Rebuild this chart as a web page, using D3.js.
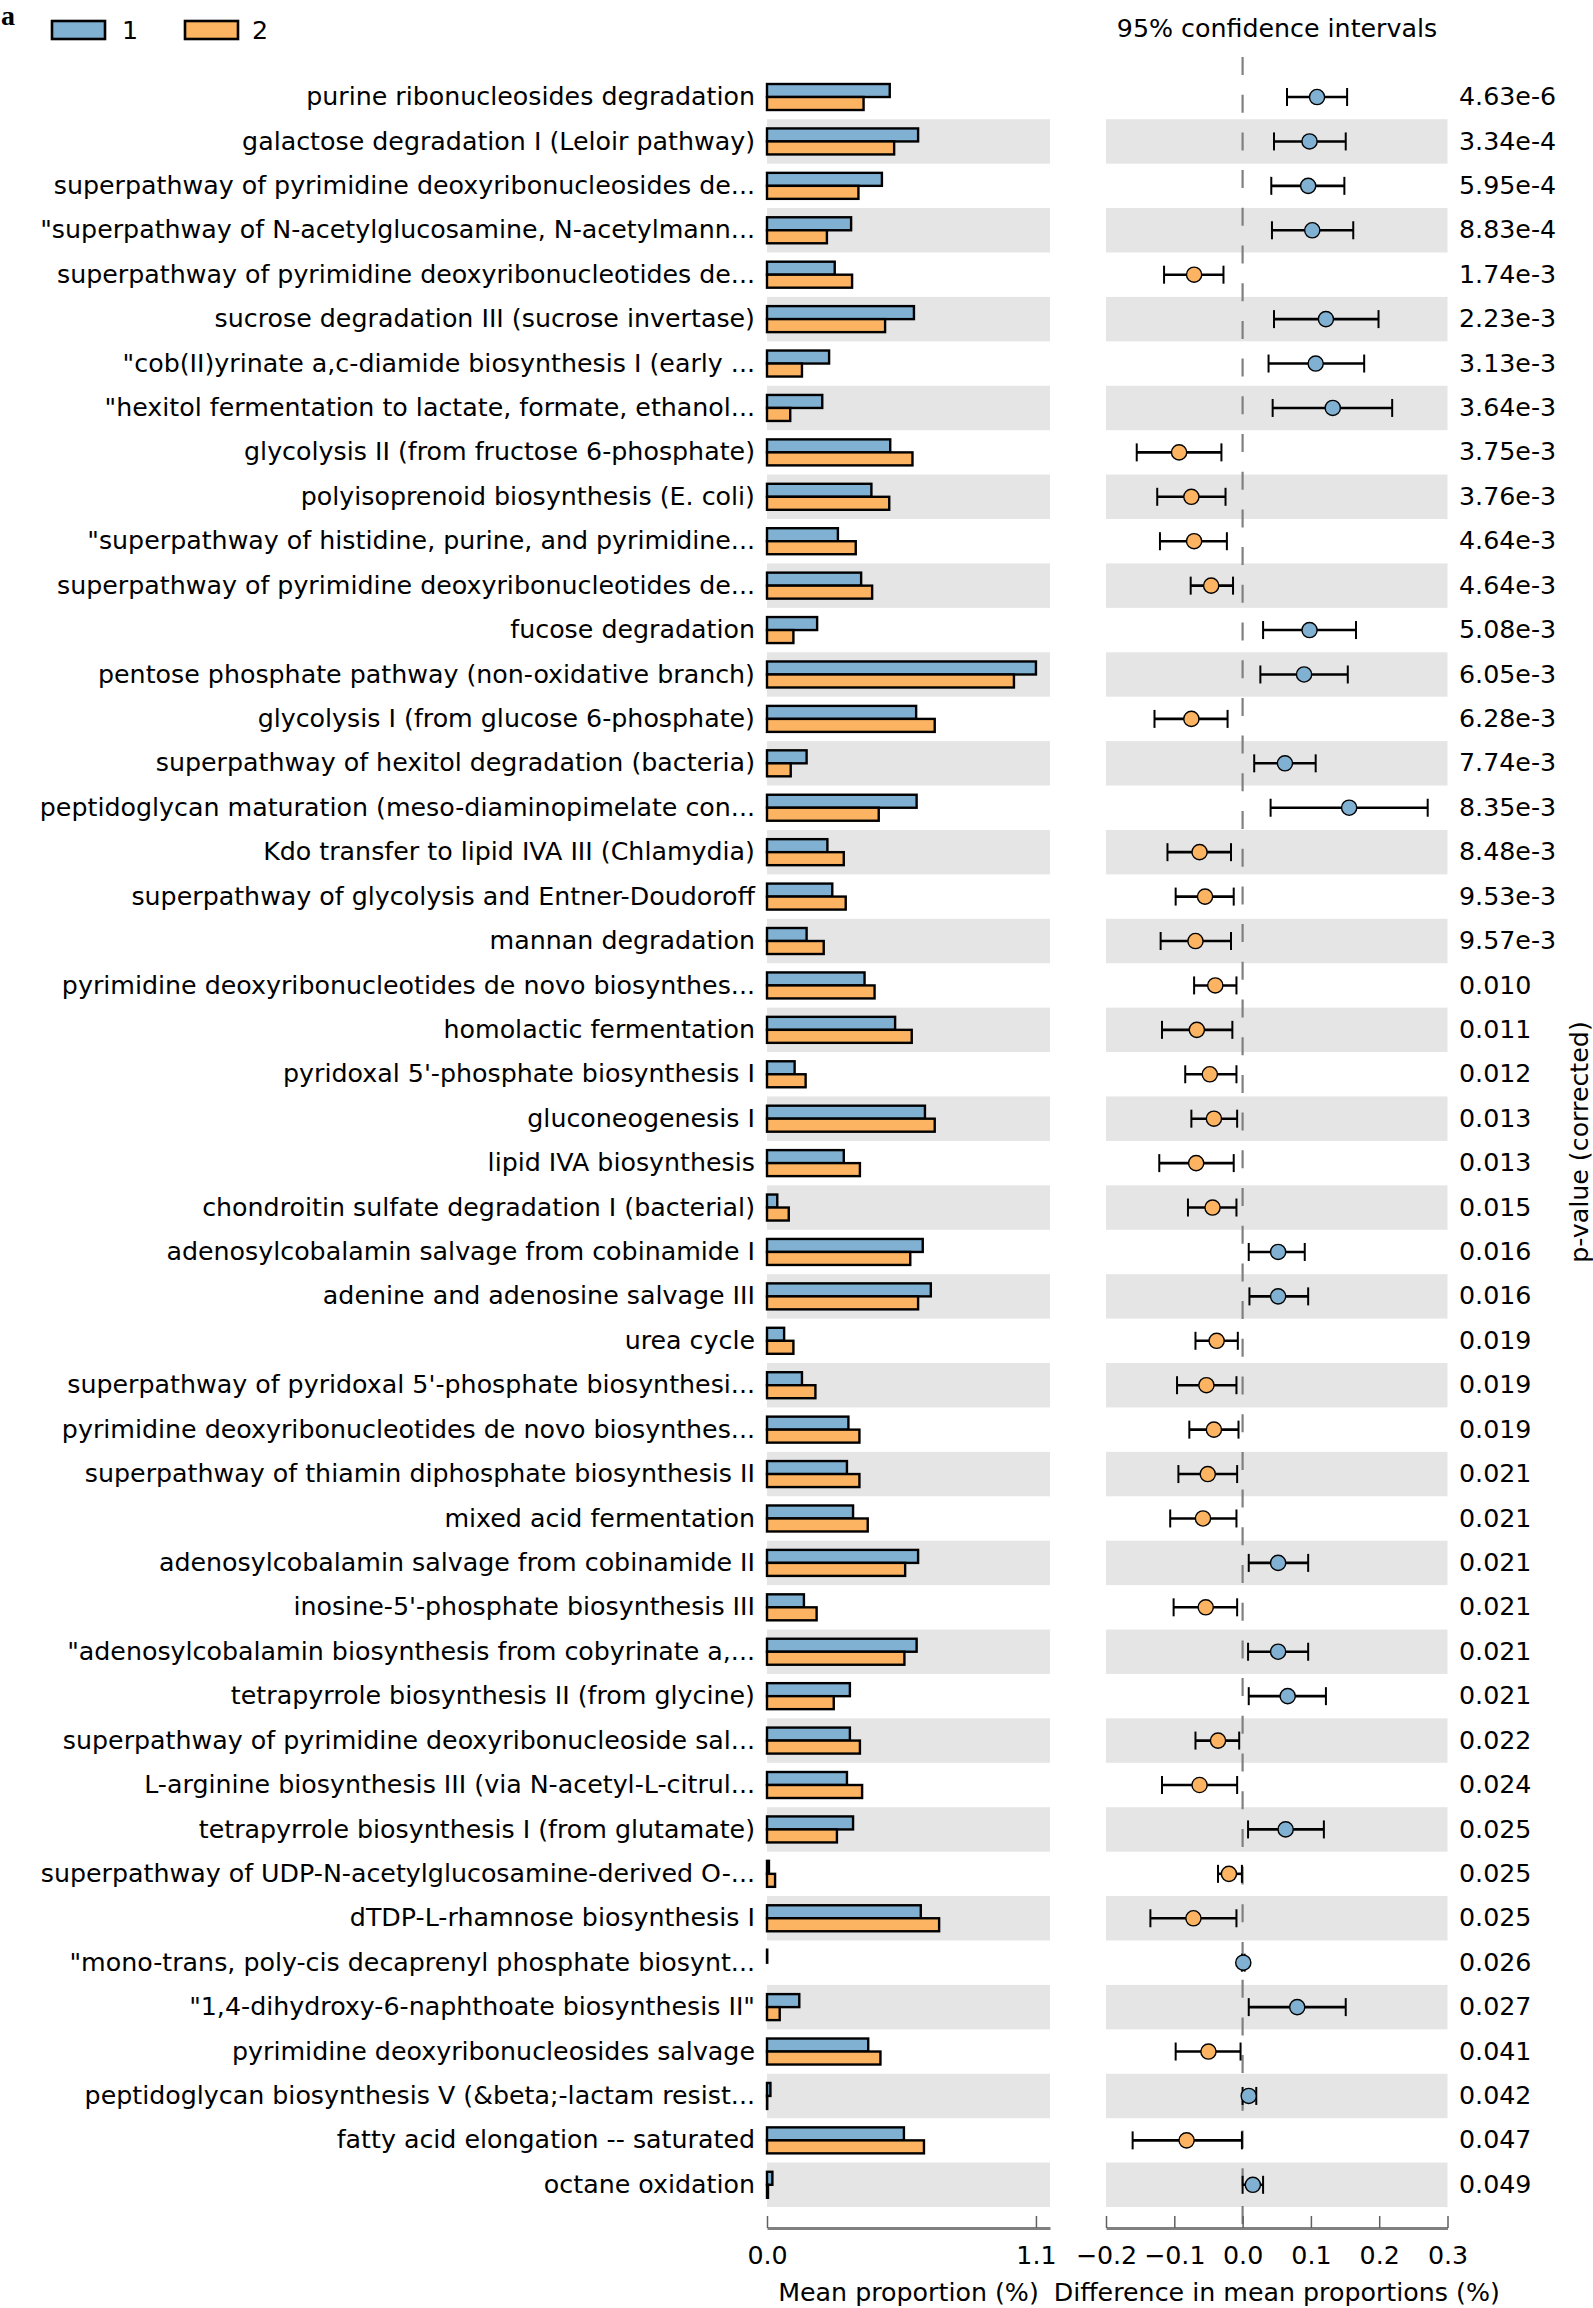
<!DOCTYPE html>
<html><head><meta charset="utf-8">
<script src="https://cdn.jsdelivr.net/npm/d3@7"></script>
<style>
html,body{margin:0;padding:0;background:#fff;}
svg text{font-family:"DejaVu Sans",sans-serif;fill:#000;}
</style></head>
<body><svg id="chart" width="1593" height="2308"></svg>
<script>
const categories = [
"purine ribonucleosides degradation",
"galactose degradation I (Leloir pathway)",
"superpathway of pyrimidine deoxyribonucleosides de...",
"\"superpathway of N-acetylglucosamine, N-acetylmann...",
"superpathway of pyrimidine deoxyribonucleotides de...",
"sucrose degradation III (sucrose invertase)",
"\"cob(II)yrinate a,c-diamide biosynthesis I (early ...",
"\"hexitol fermentation to lactate, formate, ethanol...",
"glycolysis II (from fructose 6-phosphate)",
"polyisoprenoid biosynthesis (E. coli)",
"\"superpathway of histidine, purine, and pyrimidine...",
"superpathway of pyrimidine deoxyribonucleotides de...",
"fucose degradation",
"pentose phosphate pathway (non-oxidative branch)",
"glycolysis I (from glucose 6-phosphate)",
"superpathway of hexitol degradation (bacteria)",
"peptidoglycan maturation (meso-diaminopimelate con...",
"Kdo transfer to lipid IVA III (Chlamydia)",
"superpathway of glycolysis and Entner-Doudoroff",
"mannan degradation",
"pyrimidine deoxyribonucleotides de novo biosynthes...",
"homolactic fermentation",
"pyridoxal 5'-phosphate biosynthesis I",
"gluconeogenesis I",
"lipid IVA biosynthesis",
"chondroitin sulfate degradation I (bacterial)",
"adenosylcobalamin salvage from cobinamide I",
"adenine and adenosine salvage III",
"urea cycle",
"superpathway of pyridoxal 5'-phosphate biosynthesi...",
"pyrimidine deoxyribonucleotides de novo biosynthes...",
"superpathway of thiamin diphosphate biosynthesis II",
"mixed acid fermentation",
"adenosylcobalamin salvage from cobinamide II",
"inosine-5'-phosphate biosynthesis III",
"\"adenosylcobalamin biosynthesis from cobyrinate a,...",
"tetrapyrrole biosynthesis II (from glycine)",
"superpathway of pyrimidine deoxyribonucleoside sal...",
"L-arginine biosynthesis III (via N-acetyl-L-citrul...",
"tetrapyrrole biosynthesis I (from glutamate)",
"superpathway of UDP-N-acetylglucosamine-derived O-...",
"dTDP-L-rhamnose biosynthesis I",
"\"mono-trans, poly-cis decaprenyl phosphate biosynt...",
"\"1,4-dihydroxy-6-naphthoate biosynthesis II\"",
"pyrimidine deoxyribonucleosides salvage",
"peptidoglycan biosynthesis V (&beta;-lactam resist...",
"fatty acid elongation -- saturated",
"octane oxidation"
];
const pValues = ["4.63e-6","3.34e-4","5.95e-4","8.83e-4","1.74e-3","2.23e-3","3.13e-3","3.64e-3","3.75e-3","3.76e-3","4.64e-3","4.64e-3","5.08e-3","6.05e-3","6.28e-3","7.74e-3","8.35e-3","8.48e-3","9.53e-3","9.57e-3","0.010","0.011","0.012","0.013","0.013","0.015","0.016","0.016","0.019","0.019","0.019","0.021","0.021","0.021","0.021","0.021","0.021","0.022","0.024","0.025","0.025","0.025","0.026","0.027","0.041","0.042","0.047","0.049"];
const meanGroup1 = [0.502,0.618,0.470,0.344,0.277,0.601,0.254,0.226,0.504,0.427,0.290,0.385,0.205,1.100,0.610,0.162,0.612,0.247,0.267,0.162,0.399,0.524,0.113,0.646,0.314,0.042,0.637,0.670,0.070,0.143,0.333,0.327,0.352,0.618,0.151,0.612,0.339,0.339,0.327,0.352,0.008,0.629,0.001,0.132,0.414,0.014,0.560,0.022];
const meanGroup2 = [0.395,0.520,0.374,0.245,0.348,0.483,0.143,0.095,0.595,0.500,0.363,0.430,0.108,1.010,0.686,0.097,0.457,0.314,0.322,0.232,0.440,0.592,0.158,0.686,0.380,0.089,0.586,0.618,0.108,0.198,0.378,0.378,0.412,0.565,0.203,0.562,0.273,0.380,0.389,0.286,0.033,0.704,0.000,0.052,0.464,0.001,0.642,0.004];
const diffMean = [0.109,0.098,0.096,0.102,-0.071,0.122,0.107,0.132,-0.093,-0.075,-0.071,-0.046,0.098,0.090,-0.075,0.062,0.156,-0.063,-0.055,-0.069,-0.040,-0.067,-0.048,-0.042,-0.068,-0.044,0.052,0.052,-0.038,-0.053,-0.042,-0.051,-0.058,0.052,-0.054,0.052,0.066,-0.036,-0.063,0.063,-0.020,-0.072,0.001,0.080,-0.050,0.009,-0.082,0.015];
const ciLow = [0.065,0.046,0.042,0.043,-0.115,0.046,0.038,0.044,-0.155,-0.125,-0.121,-0.076,0.030,0.026,-0.129,0.017,0.041,-0.110,-0.098,-0.120,-0.071,-0.118,-0.084,-0.075,-0.122,-0.080,0.009,0.010,-0.069,-0.096,-0.078,-0.094,-0.106,0.009,-0.101,0.008,0.009,-0.069,-0.118,0.008,-0.036,-0.135,-0.001,0.009,-0.098,0.000,-0.161,0.000];
const ciHigh = [0.153,0.151,0.149,0.162,-0.028,0.199,0.178,0.219,-0.031,-0.025,-0.023,-0.014,0.166,0.154,-0.022,0.107,0.271,-0.017,-0.013,-0.017,-0.009,-0.015,-0.009,-0.008,-0.013,-0.009,0.091,0.096,-0.007,-0.009,-0.006,-0.008,-0.009,0.096,-0.008,0.096,0.122,-0.005,-0.008,0.119,-0.001,-0.009,0.003,0.151,-0.003,0.020,-0.001,0.030];
const groups = ["1","2"];
const leftTicks = [0.0, 1.1];
const rightTicks = [-0.2,-0.1,0.0,0.1,0.2,0.3];

const C1 = "#80b1d3", C2 = "#fdb462", BAND = "#e5e5e5";
const FS = 25.3;
const svg = d3.select("#chart");
const n = categories.length;
const idx = d3.range(n);

const y = d3.scaleBand().domain(idx).range([74.8, 2207]).paddingInner(0).paddingOuter(0);
const xL = d3.scaleLinear().domain([0, 1.1575]).range([767, 1050]);
const xR = d3.scaleLinear().domain([-0.2, 0.3]).range([1106, 1447.5]);
const axisY = 2228;
const barH = 13;
const cy = i => y(i) + y.bandwidth()/2;

// background bands
const bands = idx.filter(i => i % 2 === 1);
svg.append("g").selectAll("rect").data(bands).join("rect")
  .attr("x", xL.range()[0]).attr("width", xL.range()[1]-xL.range()[0])
  .attr("y", i => y(i)).attr("height", y.bandwidth()).attr("fill", BAND);
svg.append("g").selectAll("rect").data(bands).join("rect")
  .attr("x", xR.range()[0]).attr("width", xR.range()[1]-xR.range()[0])
  .attr("y", i => y(i)).attr("height", y.bandwidth()).attr("fill", BAND);

// category labels
svg.append("g").selectAll("text").data(idx).join("text")
  .attr("x", 755).attr("y", i => cy(i)).attr("dy", "0.32em")
  .attr("text-anchor", "end").style("font-size", FS+"px")
  .text(i => categories[i]);

// bars
const gb = svg.append("g");
gb.selectAll("rect.b1").data(idx).join("rect").attr("class","b1")
  .attr("x", xL(0)).attr("y", i => cy(i)-barH)
  .attr("width", i => xL(meanGroup1[i]) - xL(0)).attr("height", barH)
  .attr("fill", C1).attr("stroke", "#000").attr("stroke-width", 2.4);
gb.selectAll("rect.b2").data(idx).join("rect").attr("class","b2")
  .attr("x", xL(0)).attr("y", i => cy(i))
  .attr("width", i => xL(meanGroup2[i]) - xL(0)).attr("height", barH)
  .attr("fill", C2).attr("stroke", "#000").attr("stroke-width", 2.4);

// zero dashed line
svg.append("line").attr("x1", xR(0)).attr("x2", xR(0)).attr("y1", 57).attr("y2", axisY)
  .attr("stroke", "#808080").attr("stroke-width", 2.2).attr("stroke-dasharray", "18,19.7");

// CI
const gc = svg.append("g");
gc.selectAll("line.ci").data(idx).join("line").attr("class","ci")
  .attr("x1", i => xR(ciLow[i])).attr("x2", i => xR(ciHigh[i]))
  .attr("y1", i => cy(i)).attr("y2", i => cy(i))
  .attr("stroke", "#000").attr("stroke-width", 2.6);
gc.selectAll("line.capL").data(idx).join("line").attr("class","capL")
  .attr("x1", i => xR(ciLow[i])).attr("x2", i => xR(ciLow[i]))
  .attr("y1", i => cy(i)-9).attr("y2", i => cy(i)+9)
  .attr("stroke", "#000").attr("stroke-width", 2);
gc.selectAll("line.capH").data(idx).join("line").attr("class","capH")
  .attr("x1", i => xR(ciHigh[i])).attr("x2", i => xR(ciHigh[i]))
  .attr("y1", i => cy(i)-9).attr("y2", i => cy(i)+9)
  .attr("stroke", "#000").attr("stroke-width", 2);
gc.selectAll("circle").data(idx).join("circle")
  .attr("cx", i => xR(diffMean[i])).attr("cy", i => cy(i)).attr("r", 7.6)
  .attr("fill", i => diffMean[i] > 0 ? C1 : C2)
  .attr("stroke", "#000").attr("stroke-width", 1.4);

// p-values
svg.append("g").selectAll("text").data(idx).join("text")
  .attr("x", 1459).attr("y", i => cy(i)).attr("dy", "0.32em")
  .style("font-size", FS+"px").text(i => pValues[i]);

// axes
function styleAxis(g){
  g.select(".domain").attr("stroke", "#808080").attr("stroke-width", 3);
  g.selectAll(".tick line").attr("stroke", "#606060").attr("stroke-width", 1.5);
  g.selectAll(".tick text").style("font-size", FS+"px").style("font-family", "DejaVu Sans").attr("fill", "#000");
}
svg.append("g").attr("transform", `translate(0,${axisY})`)
  .call(d3.axisBottom(xL).tickValues(leftTicks).tickFormat(d3.format(".1f")).tickSizeInner(-12).tickSizeOuter(0).tickPadding(18))
  .call(styleAxis);
svg.append("g").attr("transform", `translate(0,${axisY})`)
  .call(d3.axisBottom(xR).tickValues(rightTicks).tickFormat(d3.format(".1f")).tickSizeInner(-12).tickSizeOuter(0).tickPadding(18))
  .call(styleAxis);

// axis titles
svg.append("text").attr("x", (xL.range()[0]+xL.range()[1])/2).attr("y", 2301)
  .attr("text-anchor", "middle").style("font-size", FS+"px").text("Mean proportion (%)");
svg.append("text").attr("x", (xR.range()[0]+xR.range()[1])/2).attr("y", 2301)
  .attr("text-anchor", "middle").style("font-size", FS+"px").text("Difference in mean proportions (%)");
svg.append("text").attr("x", 1277).attr("y", 37)
  .attr("text-anchor", "middle").style("font-size", FS+"px").text("95% confidence intervals");
svg.append("text").attr("transform", "translate(1588,1142) rotate(-90)")
  .attr("text-anchor", "middle").style("font-size", FS+"px").text("p-value (corrected)");

// legend
const colors = [C1, C2];
const lg = svg.append("g");
lg.selectAll("rect").data(groups).join("rect")
  .attr("x", (d,i) => 52 + i*133).attr("y", 21).attr("width", 53).attr("height", 18)
  .attr("fill", (d,i) => colors[i]).attr("stroke", "#000").attr("stroke-width", 2.6);
lg.selectAll("text").data(groups).join("text")
  .attr("x", (d,i) => 122 + i*130).attr("y", 39)
  .style("font-size", FS+"px").text(d => d);

// panel letter
svg.append("text").attr("x", 1).attr("y", 25)
  .style("font-family", "'Liberation Serif',serif").style("font-weight", "bold").style("font-size", "28px")
  .text("a");
</script></body></html>
